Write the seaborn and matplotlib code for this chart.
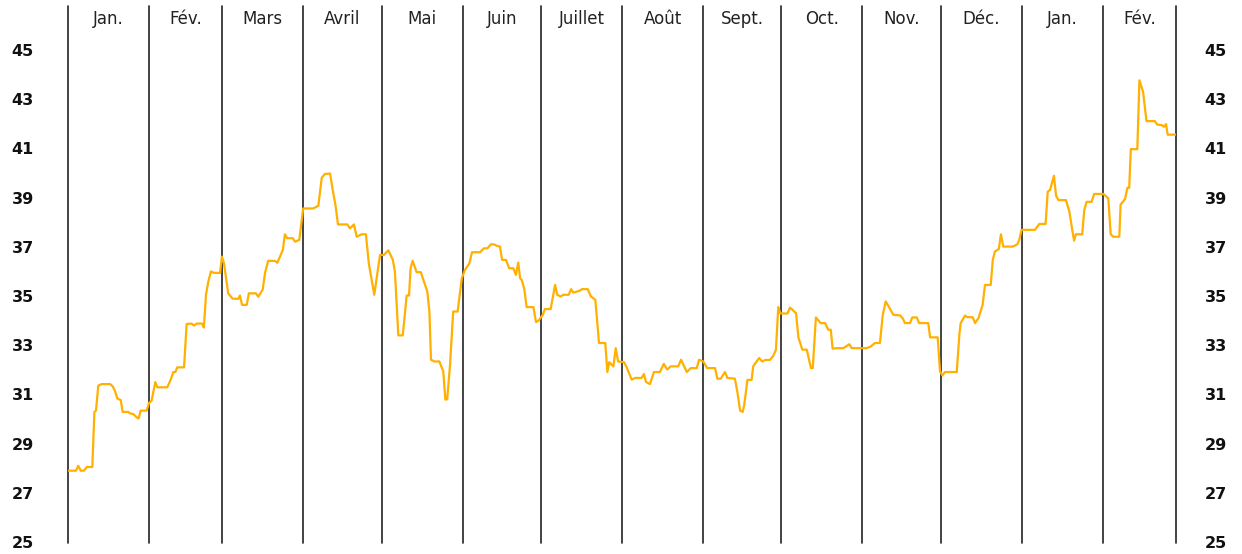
import pandas as pd
import matplotlib
matplotlib.use("Agg")
import matplotlib.pyplot as plt
import seaborn as sns

# Data (days since 1 Jan of the first year, value)
days = [0, 3.1, 3.9, 4.9, 6.1, 7.2, 9.3, 10.1, 10.7, 11.6, 12.9, 16.1, 17.1, 18.0, 18.9,
        20.2, 20.9, 23.1, 23.7, 25.0, 26.3, 27.0, 27.8, 30.1, 31.0, 32.0, 33.4, 34.2,
        38.0, 39.3, 40.3, 41.1, 41.8, 44.4, 45.4, 47.3, 48.2, 49.3, 51.3, 52.0, 52.8,
        53.7, 54.7, 55.9, 58.2, 58.9, 59.7, 61.3, 63.0, 65.2, 65.8, 66.6, 68.4, 69.2,
        71.9, 72.8, 74.5, 75.4, 76.6, 79.2, 80.1, 82.2, 83.0, 83.9, 86.0, 86.9, 88.5,
        90.0, 93.9, 95.8, 97.1, 98.3, 100.3, 101.3, 102.4, 103.3, 106.9, 107.9, 109.4,
        110.5, 112.4, 114.0, 115.1, 117.2, 119.4, 120.9, 122.6, 124.3, 125.1, 126.4,
        128.1, 129.6, 130.5, 131.1, 131.9, 133.4, 135.0, 136.2, 137.5, 138.3, 138.9,
        140.2, 142.1, 143.6, 144.4, 145.1, 146.2, 147.4, 149.1, 150.7, 151.9, 153.6,
        154.6, 157.7, 159.2, 160.5, 161.8, 163.0, 164.1, 165.3, 166.1, 167.6, 168.8,
        170.4, 171.4, 172.3, 173.0, 173.6, 174.6, 175.5, 178.1, 179.1, 180.0, 181.7,
        182.5, 184.7, 186.4, 187.2, 188.5, 189.5, 191.6, 192.5, 193.4, 195.7, 196.7,
        198.9, 200.1, 201.8, 203.2, 205.6, 206.4, 207.1, 208.7, 209.6, 210.5, 212.8,
        213.8, 215.7, 217.0, 219.5, 220.4, 221.2, 222.7, 224.2, 226.5, 228.0, 229.3,
        230.6, 233.5, 234.6, 236.8, 238.3, 240.6, 241.5, 243.1, 244.6, 247.6, 248.5,
        249.8, 251.4, 252.3, 255.2, 256.1, 257.2, 258.2, 258.8, 260.0, 261.6, 262.2,
        263.5, 264.5, 265.6, 266.8, 268.6, 269.9, 270.9, 271.8, 272.6, 275.3, 276.3,
        278.6, 279.5, 281.0, 282.7, 284.3, 285.0, 286.2, 288.0, 289.7, 290.9, 291.9,
        292.6, 294.2, 296.7, 299.0, 299.9, 305.6, 307.2, 308.8, 310.7, 311.8, 312.9,
        314.3, 315.8, 318.4, 319.4, 320.3, 322.2, 323.1, 324.8, 325.7, 329.2, 329.9,
        332.8, 333.7, 334.6, 335.6, 340.1, 341.1, 341.6, 343.3, 344.1, 346.2, 347.1,
        348.4, 350.0, 350.9, 353.1, 353.9, 354.7, 356.2, 357.0, 357.9, 361.5, 363.3,
        364.0, 364.9, 370.0, 371.7, 374.1, 374.9, 375.8, 377.3, 378.1, 379.0, 381.9,
        383.2, 384.2, 385.0, 385.7, 388.1, 388.9, 389.8, 391.7, 392.7, 396.2, 398.1,
        399.0, 400.0, 402.3, 402.8, 404.5, 405.4, 406.1, 406.7, 409.2, 410.0, 411.4,
        412.7, 415.9, 416.8, 418.5, 419.4, 420.2, 420.8, 423.8]

values = [27.9, 27.9, 28.1, 27.9, 27.9, 28.05, 28.05, 30.29, 30.34, 31.36, 31.42, 31.42,
          31.33, 31.13, 30.83, 30.77, 30.29, 30.29, 30.23, 30.2, 30.07, 30.02, 30.34,
          30.34, 30.65, 30.75, 31.5, 31.29, 31.29, 31.6, 31.91, 31.91, 32.1, 32.1, 33.86,
          33.88, 33.8, 33.88, 33.88, 33.72, 35.05, 35.59, 36.0, 35.94, 35.94, 36.6, 36.33,
          35.11, 34.89, 34.89, 35.02, 34.64, 34.64, 35.11, 35.11, 34.97, 35.26, 35.94,
          36.43, 36.43, 36.35, 36.87, 37.51, 37.35, 37.35, 37.21, 37.28, 38.56, 38.56,
          38.67, 39.81, 39.96, 39.98, 39.31, 38.67, 37.91, 37.91, 37.75, 37.91, 37.41,
          37.51, 37.51, 36.33, 35.05, 36.67, 36.67, 36.86, 36.47, 35.99, 33.4, 33.4,
          35.02, 35.02, 36.13, 36.43, 35.97, 35.97, 35.59, 35.18, 34.37, 32.41, 32.34,
          32.34, 31.94, 30.79, 30.8, 32.21, 34.37, 34.37, 35.72, 36.06, 36.33, 36.78,
          36.78, 36.94, 36.94, 37.1, 37.1, 37.04, 37.01, 36.47, 36.47, 36.13, 36.13,
          35.86, 36.36, 35.72, 35.66, 35.29, 34.55, 34.55, 33.94, 33.99, 34.24, 34.47,
          34.47, 35.45, 35.05, 34.98, 35.05, 35.05, 35.28, 35.14, 35.21, 35.28, 35.28,
          34.98, 34.85, 33.09, 33.09, 31.91, 32.31, 32.14, 32.88, 32.34, 32.31, 32.1,
          31.6, 31.67, 31.67, 31.83, 31.5, 31.42, 31.91, 31.91, 32.24, 32.01, 32.14,
          32.14, 32.41, 31.91, 32.07, 32.07, 32.41, 32.34, 32.07, 32.07, 31.64, 31.64,
          31.91, 31.67, 31.64, 31.13, 30.34, 30.29, 30.59, 31.59, 31.59, 32.14, 32.34,
          32.48, 32.34, 32.4, 32.4, 32.57, 32.82, 34.55, 34.29, 34.29, 34.53, 34.3,
          33.32, 32.82, 32.82, 32.07, 32.07, 34.13, 33.9, 33.9, 33.63, 33.63, 32.86,
          32.88, 32.88, 33.04, 32.88, 32.88, 32.95, 33.09, 33.09, 34.24, 34.78, 34.53,
          34.24, 34.21, 34.1, 33.9, 33.9, 34.13, 34.13, 33.9, 33.9, 33.32, 33.32, 31.94,
          31.77, 31.91, 31.91, 33.43, 33.9, 34.21, 34.14, 34.14, 33.9, 34.1, 34.64,
          35.45, 35.45, 36.47, 36.81, 36.91, 37.51, 37.01, 37.01, 37.1, 37.28, 37.69,
          37.69, 37.93, 37.93, 39.24, 39.31, 39.89, 39.08, 38.9, 38.9, 38.43, 37.75,
          37.25, 37.51, 37.51, 38.5, 38.83, 38.83, 39.15, 39.15, 38.97, 37.51, 37.41,
          37.41, 38.72, 38.94, 39.4, 39.4, 40.97, 40.97, 43.77, 43.3, 42.11, 42.11,
          41.97, 41.95, 41.88, 41.99, 41.56, 41.56]

month_labels = ["Jan.", "Fév.", "Mars", "Avril", "Mai", "Juin", "Juillet", "Août",
                "Sept.", "Oct.", "Nov.", "Déc.", "Jan.", "Fév."]
y_ticks = [25, 27, 29, 31, 33, 35, 37, 39, 41, 43, 45]

start = pd.Timestamp("2021-01-01")
df = pd.DataFrame({
    "date": start + pd.to_timedelta(days, unit="D"),
    "value": values,
})
bounds = pd.date_range("2021-01-01", "2022-03-01", freq="MS")

sns.set_style("white")
plt.rcParams["font.family"] = ["DejaVu Sans"]

fig = plt.figure(figsize=(12.42, 5.54), dpi=100)
ax = fig.add_axes([68 / 1242, 11 / 554, (1176 - 68) / 1242, 537 / 554])

sns.lineplot(data=df, x="date", y="value", ax=ax, color="#FFB000", linewidth=1.6, zorder=3)

# month separators
for b in bounds:
    ax.axvline(b, color="#222222", linewidth=1.2, zorder=1, clip_on=False)

# month names between separators
for i, lab in enumerate(month_labels):
    mid = bounds[i] + (bounds[i + 1] - bounds[i]) / 2
    ax.text(mid, 46.26, lab, ha="center", va="center", fontsize=12, color="#222222")

ax.set_xlim(bounds[0], bounds[-1])
ax.set_ylim(24.96, 46.79)
ax.set_yticks(y_ticks)
ax.set_yticklabels([str(t) for t in y_ticks], fontweight="bold", fontsize=11.5, color="#111111")
ax.tick_params(axis="y", left=False, right=False, length=0, pad=24.5)
ax.set_xticks([])
ax.set_xlabel("")
ax.set_ylabel("")
for s in ax.spines.values():
    s.set_visible(False)

# right-hand labels, a bit closer to the plot
ax2 = ax.twinx()
ax2.set_ylim(ax.get_ylim())
ax2.set_yticks(y_ticks)
ax2.set_yticklabels([str(t) for t in y_ticks], fontweight="bold", fontsize=11.5, color="#111111")
ax2.tick_params(axis="y", right=False, length=0, pad=20.5)
ax2.set_ylabel("")
for s in ax2.spines.values():
    s.set_visible(False)

plt.savefig("out.png", dpi=100)
plt.close()
